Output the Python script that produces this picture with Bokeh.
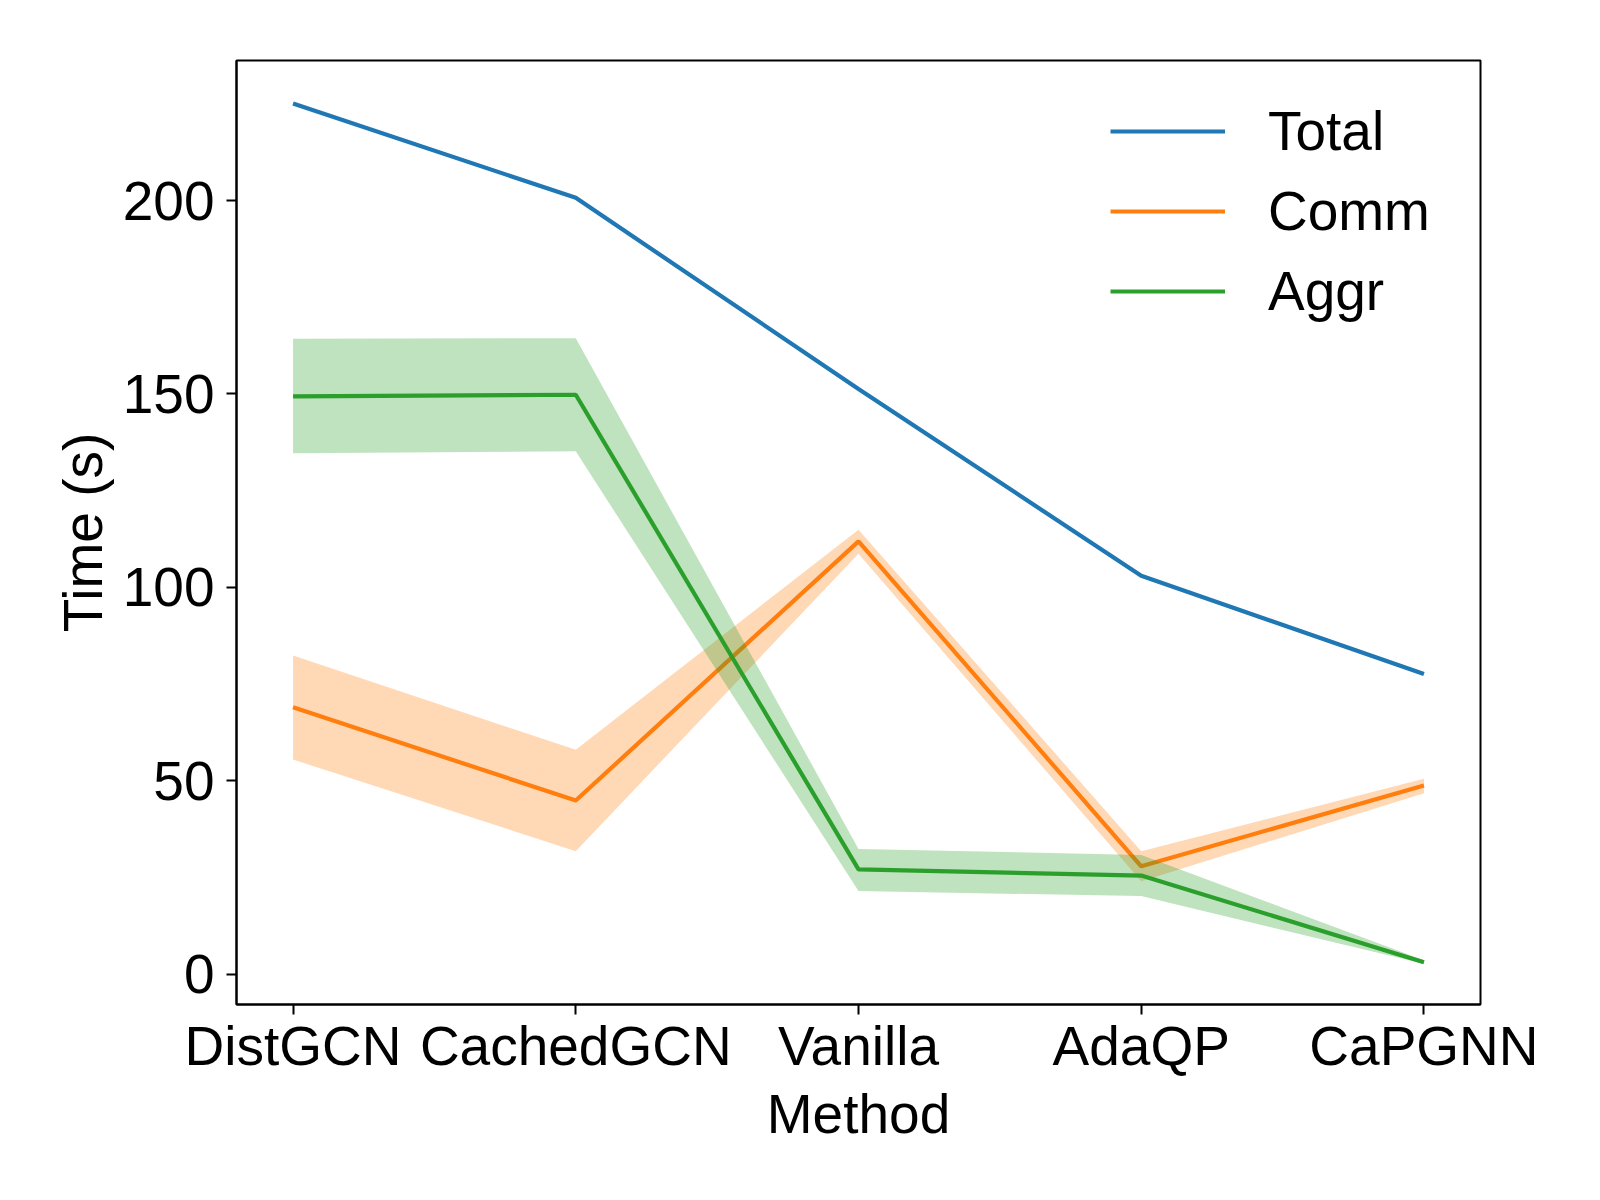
from bokeh.plotting import figure
from bokeh.models import FixedTicker, Legend, LegendItem, Range1d
from bokeh.embed import file_html
from bokeh.resources import INLINE

methods = ["DistGCN", "CachedGCN", "Vanilla", "AdaQP", "CaPGNN"]
total = [225.1, 200.7, 151.3, 103.0, 77.6]
comm = [69.0, 44.9, 111.9, 27.9, 48.8]
comm_lo = [55.5, 31.8, 108.7, 24.0, 46.8]
comm_hi = [82.4, 58.0, 114.9, 31.8, 50.5]
aggr = [149.4, 149.8, 27.1, 25.5, 3.1]
aggr_lo = [134.7, 135.2, 21.5, 20.2, 2.7]
aggr_hi = [164.3, 164.4, 32.4, 30.8, 3.6]
y_ticks = [0, 50, 100, 150, 200]

x = list(range(len(methods)))

FONT = "Liberation Sans"
FS = "55px"

W, H = 1580, 1180
left, top, fw, fh = 236, 60, 1244, 944

p = figure(width=W, height=H, output_backend="svg", toolbar_location=None,
           x_range=Range1d(-0.2, 4.2), y_range=Range1d(-7.83, 236.2),
           min_border_left=left, min_border_top=top,
           min_border_right=W - left - fw, min_border_bottom=H - top - fh)
p.frame_width = fw
p.frame_height = fh

p.xgrid.visible = False
p.ygrid.visible = False
p.outline_line_color = "black"
p.outline_line_width = 2
p.outline_line_alpha = 1
p.background_fill_color = "white"
p.border_fill_color = "white"

c_total, c_comm, c_aggr = "#1f77b4", "#ff7f0e", "#2ca02c"
LW = 4.2

r_total = p.line(x, total, line_color=c_total, line_width=LW)
r_comm = p.line(x, comm, line_color=c_comm, line_width=LW)
p.varea(x=x, y1=comm_lo, y2=comm_hi, fill_color=c_comm, fill_alpha=0.3)
r_aggr = p.line(x, aggr, line_color=c_aggr, line_width=LW)
p.varea(x=x, y1=aggr_lo, y2=aggr_hi, fill_color=c_aggr, fill_alpha=0.3)

# axes
p.xaxis.ticker = FixedTicker(ticks=x)
p.xaxis.major_label_overrides = {i: m for i, m in zip(x, methods)}
p.yaxis.ticker = FixedTicker(ticks=y_ticks)
p.xaxis.axis_label = "Method"
p.yaxis.axis_label = "Time (s)"
for ax in (p.xaxis, p.yaxis):
    ax.axis_line_color = "black"
    ax.axis_line_width = 2
    ax.major_tick_line_color = "black"
    ax.major_tick_line_width = 2
    ax.major_tick_out = 10
    ax.major_tick_in = 0
    ax.minor_tick_line_color = None
    ax.major_label_text_font = FONT
    ax.major_label_text_font_size = FS
    ax.major_label_text_color = "black"
    ax.axis_label_text_font = FONT
    ax.axis_label_text_font_size = FS
    ax.axis_label_text_font_style = "normal"
    ax.axis_label_text_color = "black"
p.xaxis.major_label_standoff = 0
p.xaxis.axis_label_standoff = 3
p.yaxis.major_label_standoff = 12
p.yaxis.axis_label_standoff = 6

legend = Legend(items=[LegendItem(label="Total", renderers=[r_total]),
                       LegendItem(label="Comm", renderers=[r_comm]),
                       LegendItem(label="Aggr", renderers=[r_aggr])],
                location=(874, 681))
legend.label_text_font = FONT
legend.label_text_font_size = FS
legend.label_text_color = "black"
legend.glyph_width = 115
legend.glyph_height = 60
legend.label_height = 60
legend.label_standoff = 43
legend.spacing = 16
legend.padding = 0
legend.margin = 0
legend.border_line_color = None
legend.background_fill_alpha = 0
p.add_layout(legend)

open("out.html", "w").write(file_html(p, INLINE))
